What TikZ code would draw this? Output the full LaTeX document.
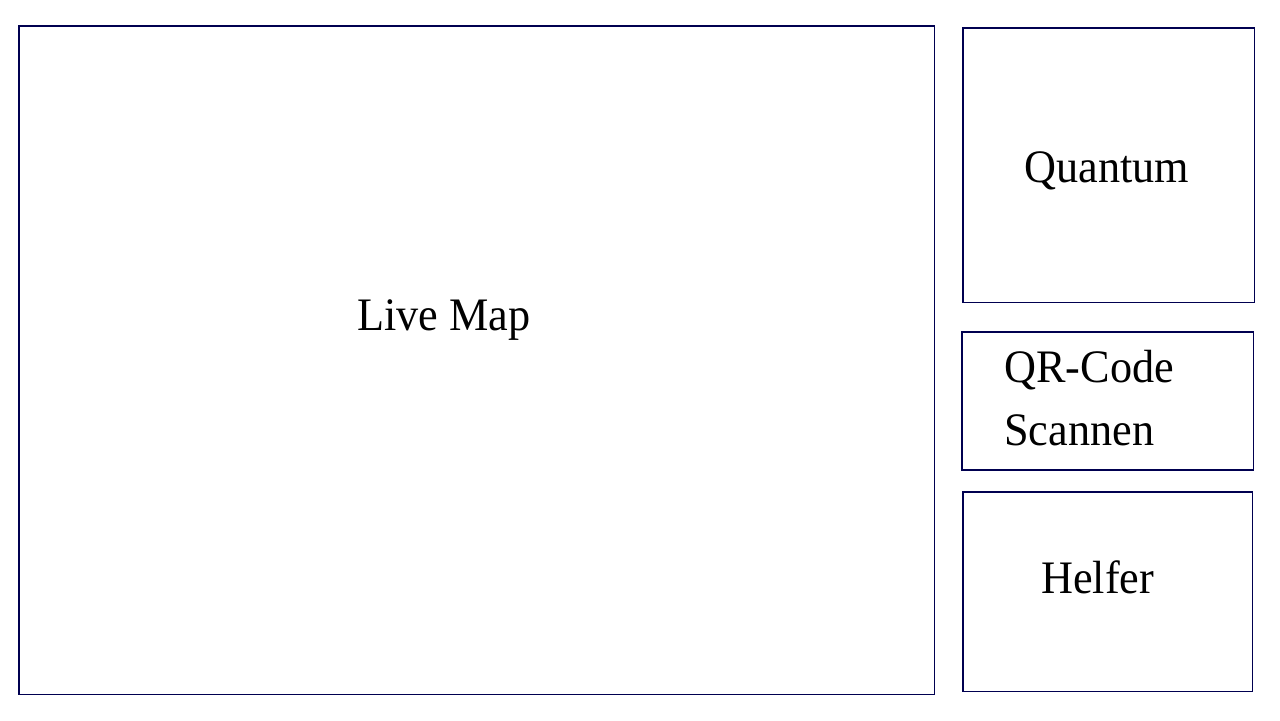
\documentclass[tikz,border=0pt]{standalone}
\usepackage{fontspec}
\setmainfont{Liberation Serif}[FakeStretch=0.95]
\usetikzlibrary{positioning}
\definecolor{framenavy}{RGB}{0,0,80}
\tikzset{
panel/.style = {rectangle, draw = framenavy, line width = 0.6pt, inner sep = 0pt,
   outer sep = 0pt, anchor = north west},
caption/.style = {inner sep = 0pt, anchor = base west, align = left,
   font = \fontsize{26.5}{35.3}\selectfont}
}
\begin{document}
\begin{tikzpicture}[x = 0.02cm, y = -0.02cm]

\useasboundingbox (0, 0) rectangle (1280, 720);

%% Panels
\node [panel, minimum width = 18.32cm, minimum height = 13.38cm] (map) at (19, 26) {};
\node [panel, minimum width = 5.84cm, minimum height = 5.5cm] (quantum) at (963, 28) {};
\node [panel, minimum width = 5.84cm, minimum height = 2.76cm] (qrcode) at (962, 332) {};
\node [panel, minimum width = 5.8cm, minimum height = 4cm] (helper) at (963, 492) {};

%% Captions
\node [caption] (maptext) at (357, 330) {Live Map};
\node [caption] (quantumtext) at (1024, 182) {Quantum};
\node [caption] (qrtext) at (1004, 445) {QR-Code\\Scannen};
\node [caption] (helpertext) at (1041, 593) {Helfer};

\end{tikzpicture}
\end{document}
